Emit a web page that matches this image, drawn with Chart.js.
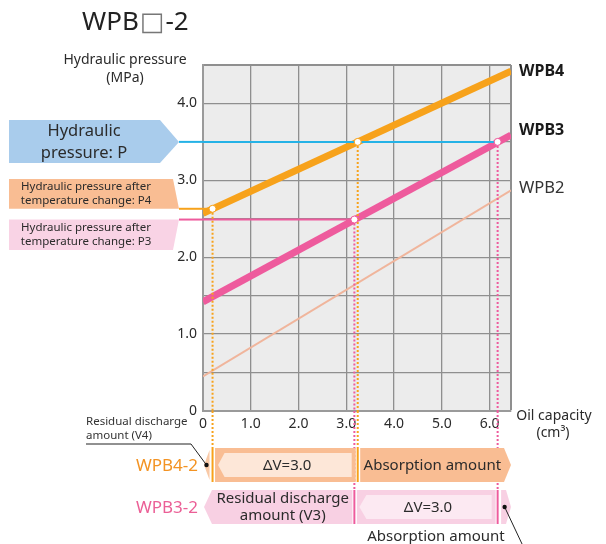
<!DOCTYPE html>
<html><head><meta charset="utf-8">
<script src="https://cdn.jsdelivr.net/npm/chart.js@4/dist/chart.umd.min.js"></script>
<style>html,body{margin:0;padding:0;background:#fff;}#wrap{width:606px;height:544px;position:relative;}</style>
</head><body><div id="wrap"><canvas id="c" width="606" height="544"></canvas></div>
<script>
// ---- data ----
const capacityRange = [0, 6.45];              // x extent of the characteristic lines (cm3)
const xTickValues = [0, 1, 2, 3, 4, 5, 6, 6.45];
const xTickLabels = ['0', '1.0', '2.0', '3.0', '4.0', '5.0', '6.0', ''];
const yTickValues = [0, 0.5, 1, 1.5, 2, 2.5, 3, 3.5, 4, 4.5];
const yTickLabels = ['0', '', '1.0', '', '2.0', '', '3.0', '', '4.0', ''];
const seriesNames = ['WPB4', 'WPB3', 'WPB2'];
const wpb4 = [2.57, 4.42];
const wpb3 = [1.42, 3.59];
const wpb2 = [0.45, 2.87];
const pressureP = 3.5;
const pressureP4 = 2.63;
const pressureP3 = 2.49;
const wpb4Volumes = [0.2, 3.24];   // volume at P4, volume at P
const wpb3Volumes = [3.17, 6.17];  // volume at P3, volume at P
const deltaV = '3.0';

// ---- styles ----
const FONT = '"Noto Sans", "DejaVu Sans", sans-serif';
const C_OR = '#f7a21b', C_PK = '#ee5b9d', C_SAL = '#f0b59c', C_BL = '#25b2e6';
const C_TXT = '#2b2b2b';

const pts = (xs, ys) => xs.map((x, i) => ({x, y: ys[i]}));
function lineDs(data, color, width, order, extra) {
  return Object.assign({data, borderColor: color, backgroundColor: color, borderWidth: width,
    showLine: true, pointRadius: 0, order, borderCapStyle: 'butt', tension: 0}, extra || {});
}

const datasets = [
  lineDs(pts(capacityRange, wpb2), C_SAL, 2, 6),
  lineDs(pts(capacityRange, wpb3), C_PK, 7, 5),
  lineDs(pts(capacityRange, wpb4), C_OR, 7, 4),
  lineDs([{x: 0, y: pressureP}, {x: wpb3Volumes[1], y: pressureP}], C_BL, 2, 3),
  lineDs([{x: 0, y: pressureP4}, {x: wpb4Volumes[0], y: pressureP4}], C_OR, 2, 3),
  lineDs([{x: 0, y: pressureP3}, {x: wpb3Volumes[0], y: pressureP3}], C_PK, 2, 3),
  lineDs([{x: wpb4Volumes[0], y: pressureP4}, {x: wpb4Volumes[0], y: 0}], C_OR, 2, 2, {borderDash: [2, 2]}),
  lineDs([{x: wpb4Volumes[1], y: pressureP}, {x: wpb4Volumes[1], y: 0}], C_OR, 2, 2, {borderDash: [2, 2]}),
  lineDs([{x: wpb3Volumes[0], y: pressureP3}, {x: wpb3Volumes[0], y: 0}], C_PK, 2, 2, {borderDash: [2, 2]}),
  lineDs([{x: wpb3Volumes[1], y: pressureP}, {x: wpb3Volumes[1], y: 0}], C_PK, 2, 2, {borderDash: [2, 2]}),
  {data: [{x: wpb4Volumes[0], y: pressureP4}, {x: wpb4Volumes[1], y: pressureP}], showLine: false,
   pointRadius: 3.5, pointBackgroundColor: '#fff', pointBorderColor: C_OR, pointBorderWidth: 1, order: 1},
  {data: [{x: wpb3Volumes[0], y: pressureP3}, {x: wpb3Volumes[1], y: pressureP}], showLine: false,
   pointRadius: 3.5, pointBackgroundColor: '#fff', pointBorderColor: C_PK, pointBorderWidth: 1, order: 1}
];

function poly(ctx, p, fill) {
  ctx.beginPath(); ctx.moveTo(p[0][0], p[0][1]);
  for (let i = 1; i < p.length; i++) ctx.lineTo(p[i][0], p[i][1]);
  ctx.closePath(); ctx.fillStyle = fill; ctx.fill();
}
function txt(ctx, s, x, y, size, color, align, weight) {
  ctx.font = (weight || 'normal') + ' ' + size + 'px ' + FONT;
  ctx.fillStyle = color || C_TXT; ctx.textAlign = align || 'center'; ctx.textBaseline = 'middle';
  ctx.fillText(s, x, y);
}
function seg(ctx, x1, y1, x2, y2, color, w, dash) {
  ctx.beginPath(); ctx.setLineDash(dash || []); ctx.strokeStyle = color; ctx.lineWidth = w;
  ctx.moveTo(x1, y1); ctx.lineTo(x2, y2); ctx.stroke(); ctx.setLineDash([]);
}
function dot(ctx, x, y) { ctx.beginPath(); ctx.arc(x, y, 2.2, 0, Math.PI * 2); ctx.fillStyle = '#111'; ctx.fill(); }

const decor = {
  id: 'decor',
  beforeDraw(chart) {
    const {ctx, chartArea: a} = chart;
    ctx.save(); ctx.fillStyle = '#ececec'; ctx.fillRect(a.left, a.top, a.right - a.left, a.bottom - a.top); ctx.restore();
  },
  afterDraw(chart) {
    const {ctx, chartArea: a} = chart;
    const X = v => chart.scales.x.getPixelForValue(v);
    const Y = v => chart.scales.y.getPixelForValue(v);
    ctx.save();
    // title
    ctx.font = 'normal 26px ' + FONT; ctx.textBaseline = 'middle'; ctx.textAlign = 'left';
    let tx = 82;
    ctx.fillStyle = '#222'; ctx.fillText('WPB', tx, 23); tx += ctx.measureText('WPB').width + 1;
    ctx.fillStyle = '#777'; ctx.fillText('□', tx, 23); tx += ctx.measureText('□').width + 1;
    ctx.fillStyle = '#222'; ctx.fillText('-2', tx, 23);
    // axis titles
    txt(ctx, 'Hydraulic pressure', 125, 60, 14);
    txt(ctx, '(MPa)', 125, 78, 14);
    txt(ctx, 'Oil capacity', 554, 416, 14);
    txt(ctx, '(cm³)', 553, 433, 14);
    // series labels
    txt(ctx, seriesNames[0], 519, 71, 16, '#1a1a1a', 'left', 'bold');
    txt(ctx, seriesNames[1], 519, 130, 16, '#1a1a1a', 'left', 'bold');
    txt(ctx, seriesNames[2], 519, 188, 16.5, '#333', 'left');
    // left pressure boxes
    const yP = Y(pressureP), yP4 = Y(pressureP4), yP3 = Y(pressureP3);
    poly(ctx, [[9, 120], [160, 120], [179, yP], [160, 163], [9, 163]], '#a9ccec');
    txt(ctx, 'Hydraulic', 84, 131, 16.5);
    txt(ctx, 'pressure: P', 84, 153, 16.5);
    seg(ctx, 179, yP, a.left, yP, C_BL, 2);
    poly(ctx, [[9, 179], [173, 179], [179, yP4], [9, yP4]], '#f9bd93');
    txt(ctx, 'Hydraulic pressure after', 86, 187, 11.5);
    txt(ctx, 'temperature change: P4', 86, 201, 11.5);
    seg(ctx, 179, yP4, a.left, yP4, C_OR, 2);
    poly(ctx, [[9, yP3], [179, yP3], [173, 250], [9, 250]], '#f9d3e5');
    txt(ctx, 'Hydraulic pressure after', 86, 228, 11.5);
    txt(ctx, 'temperature change: P3', 86, 242, 11.5);
    seg(ctx, 179, yP3, a.left, yP3, C_PK, 2);

    // dotted extensions below the plot
    const r1t = 448, r1b = 482, r1c = 465, r2t = 490, r2b = 524, r2c = 507;
    seg(ctx, X(wpb4Volumes[0]), a.bottom, X(wpb4Volumes[0]), r1t, C_OR, 2, [2, 2]);
    seg(ctx, X(wpb4Volumes[1]), a.bottom, X(wpb4Volumes[1]), r1t, C_OR, 2, [2, 2]);
    seg(ctx, X(wpb3Volumes[0]), a.bottom, X(wpb3Volumes[0]), r2t, C_PK, 2, [2, 2]);
    seg(ctx, X(wpb3Volumes[1]), a.bottom, X(wpb3Volumes[1]), r2t, C_PK, 2, [2, 2]);

    const x0 = X(0), xE = X(capacityRange[1]);
    const a4 = X(wpb4Volumes[0]), b4 = X(wpb4Volumes[1]);
    const a3 = X(wpb3Volumes[0]), b3 = X(wpb3Volumes[1]);
    // row WPB4-2
    txt(ctx, 'WPB4-2', 198, r1c + 1, 17, '#f39323', 'right');
    poly(ctx, [[x0 + 1, r1c], [a4 - 3, r1t + 2], [a4 - 3, r1b - 2]], '#f9c9a6');
    poly(ctx, [[a4 + 2.5, r1t], [b4 - 2, r1t], [b4 - 2, r1b], [a4 + 2.5, r1b]], '#f9bd93');
    poly(ctx, [[a4 + 5.5, r1c], [a4 + 12, r1t + 5], [b4 - 6, r1t + 5], [b4 - 6, r1b - 5], [a4 + 12, r1b - 5]], '#fde7d8');
    txt(ctx, 'ΔV=' + deltaV, (a4 + b4) / 2 + 2, r1c + 1, 15);
    poly(ctx, [[b4 + 2.5, r1t], [xE - 7, r1t], [xE, r1c], [xE - 7, r1b], [b4 + 2.5, r1b]], '#f9bd93');
    txt(ctx, 'Absorption amount', (b4 + xE) / 2 - 2, r1c + 1, 15);
    seg(ctx, a4, r1t, a4, r1b, C_OR, 2);
    seg(ctx, b4, r1t, b4, r1b, C_OR, 2);
    // residual V4 callout
    txt(ctx, 'Residual discharge', 86, 422, 11.5, '#333', 'left');
    txt(ctx, 'amount (V4)', 86, 436, 11.5, '#333', 'left');
    seg(ctx, 86, 444, 191, 444, '#222', 1);
    seg(ctx, 191, 444, x0 + 3.5, r1c, '#222', 1);
    dot(ctx, x0 + 3.5, r1c);

    // row WPB3-2
    txt(ctx, 'WPB3-2', 198, r2c + 1, 17, '#eb5f96', 'right');
    poly(ctx, [[x0 + 1, r2c], [x0 + 9, r2t], [a3 - 2, r2t], [a3 - 2, r2b], [x0 + 9, r2b]], '#f8d0e3');
    txt(ctx, 'Residual discharge', (x0 + a3) / 2 + 4, 499, 15);
    txt(ctx, 'amount (V3)', (x0 + a3) / 2 + 4, 516, 15);
    poly(ctx, [[a3 + 2.5, r2t], [b3 - 2, r2t], [b3 - 2, r2b], [a3 + 2.5, r2b]], '#f8d0e3');
    poly(ctx, [[a3 + 5, r2c], [a3 + 12, r2t + 5], [b3 - 6, r2t + 5], [b3 - 6, r2b - 5], [a3 + 12, r2b - 5]], '#fce9f2');
    txt(ctx, 'ΔV=' + deltaV, (a3 + b3) / 2 + 2, r2c + 1, 15);
    poly(ctx, [[b3 + 3.5, r2t], [xE - 5, r2t], [xE, r2c], [xE - 5, r2b], [b3 + 3.5, r2b]], '#f8d0e3');
    seg(ctx, a3, r2t, a3, r2b, C_PK, 2);
    seg(ctx, b3, r2t, b3, r2b, C_PK, 2);
    seg(ctx, b3 + 7, r2c, 523, 546, '#222', 1);
    dot(ctx, b3 + 7, r2c);
    txt(ctx, 'Absorption amount', 436, 537, 15);
    ctx.restore();
  }
};

new Chart(document.getElementById('c'), {
  type: 'scatter',
  data: {datasets},
  plugins: [decor],
  options: {
    responsive: false, animation: false, devicePixelRatio: 1,
    layout: {padding: {left: 173, right: 95, top: 65, bottom: 103}},
    plugins: {legend: {display: false}, tooltip: {enabled: false}},
    scales: {
      x: {
        type: 'linear', min: 0, max: capacityRange[1],
        afterBuildTicks: s => { s.ticks = xTickValues.map(v => ({value: v})); },
        afterFit: s => { s.height = 30; },
        ticks: {callback: (v, i) => xTickLabels[i], font: {family: FONT, size: 14}, color: C_TXT, padding: 5, maxRotation: 0, autoSkip: false},
        grid: {color: '#8f8f8f', lineWidth: c => (c.tick && c.tick.value === capacityRange[1]) ? 2 : 1.3, drawTicks: false},
        border: {display: true, color: '#9a9a9a', width: 2}
      },
      y: {
        type: 'linear', min: 0, max: 4.5,
        afterBuildTicks: s => { s.ticks = yTickValues.map(v => ({value: v})); },
        afterFit: s => { s.width = 30; },
        ticks: {callback: (v, i) => yTickLabels[i], font: {family: FONT, size: 14}, color: C_TXT, padding: 6, autoSkip: false},
        grid: {color: '#8f8f8f', lineWidth: c => (c.tick && c.tick.value === 4.5) ? 2 : 1.3, drawTicks: false},
        border: {display: true, color: '#9a9a9a', width: 2}
      }
    }
  }
});
</script>
</body></html>
